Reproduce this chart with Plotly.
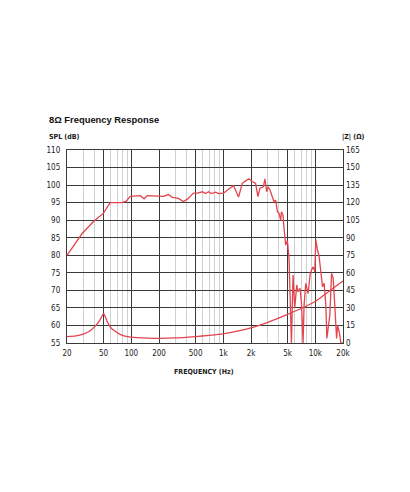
import plotly.graph_objects as go

# ---- data ----
spl_freq = [20, 29.2, 38.4, 47.8, 49.8, 58.9, 79, 88, 97.3, 125, 138, 149, 182, 223, 253, 279, 325,
            368, 407, 473, 523, 593, 640, 690, 744, 822, 887, 1005, 1111, 1292, 1465, 1608, 1746,
            1898, 2066, 2244, 2378, 2500, 2724, 2836, 2960, 3058, 3215, 3417, 3556, 3710, 3871,
            4030, 4206, 4280, 4456, 4570, 4768, 4976, 5180, 5502, 5728, 5978, 6286, 6496, 6830,
            7076, 7362, 7550, 7878, 8348, 8778, 9092, 9464, 9878, 10128, 10568, 11002, 11482,
            11984, 12474, 13020, 13350, 13792, 14392, 15020, 15638, 16320, 17032, 17466, 18184,
            18974, 19798]
spl_db = [80, 86.2, 89.5, 91.5, 92, 95, 95, 95.4, 96.8, 97, 96.1, 97, 96.8, 96.8, 97.3, 96.5, 96.2,
          95.3, 96, 97.7, 97.7, 98.1, 97.6, 98.1, 97.6, 98, 97.6, 97.7, 98.6, 99.8, 96.6, 100.5, 101.2,
          101.8, 101, 100.5, 96.7, 99.1, 99.5, 101.8, 98.1, 99.5, 98.6, 96.2, 95.3, 95.7, 92.4,
          92, 90, 92.4, 91.5, 87.7, 82.9, 84.2, 79.2, 55, 74.4, 65, 71.5, 69.6, 70.6,
          66.3, 55, 65.8, 72, 69.1, 74.4, 75.8, 76.7, 75.3, 84.4, 81.5, 79.6, 75.3,
          71, 72, 65.8, 56.3, 60, 63, 74.9, 73.4, 65.3, 56.3, 60, 58.2,
          55, 55]

imp_freq = [20, 25, 30, 35, 40, 45, 50, 55, 60, 70, 80, 100, 150, 200, 300, 500, 700, 1000,
            1500, 2000, 3000, 5000, 7000, 10000, 14000, 20000]
imp_ohm = [5.5, 6, 7.5, 10, 14, 19, 25, 18, 13, 9, 6.5, 5, 4.2, 4, 4.3, 5.5, 6.5, 7.8,
           10.5, 13, 17.5, 24.5, 29.5, 35.5, 44, 53]

x_major = [20, 50, 100, 200, 500, 1000, 2000, 5000, 10000, 20000]
x_major_text = ["20", "50", "100", "200", "500", "1k", "2k", "5k", "10k", "20k"]
x_minor = [30, 40, 60, 70, 80, 90, 300, 400, 600, 700, 800, 900,
           3000, 4000, 6000, 7000, 8000, 9000]
spl_ticks = list(range(55, 111, 5))
imp_ticks = list(range(0, 166, 15))

RED = "#e3444e"
DARK = "#3a3a3a"
COND = "Liberation Sans Narrow, DejaVu Sans Condensed, sans-serif"
tick_font = dict(family=COND, size=8, color="#1a1a1a")

# target plot box on screen (page body has an 8px margin)
W, H, OFF = 410, 492, 8
PL, PR, PT, PB = 67, 343, 150, 343
pw, ph = PR - PL, PB - PT


def px(x):
    return (x - PL) / pw


def py(y):
    return (PB - y) / ph


fig = go.Figure()
fig.add_trace(go.Scatter(x=spl_freq, y=spl_db, mode="lines", line=dict(color=RED, width=1.3),
                         showlegend=False, hoverinfo="skip"))
fig.add_trace(go.Scatter(x=imp_freq, y=imp_ohm, mode="lines", yaxis="y2",
                         line=dict(color=RED, width=1.3, shape="spline", smoothing=0.6),
                         showlegend=False, hoverinfo="skip"))


def note(text, x, y, anchor="left", size=7.5, family=COND, color="#1a1a1a"):
    return dict(text=text, x=px(x), y=py(y), xref="paper", yref="paper", showarrow=False,
                xanchor=anchor, yanchor="middle", font=dict(family=family, size=size, color=color))


fig.update_layout(
    width=W, height=H,
    margin=dict(l=PL - OFF, r=W + OFF - PR, t=PT - OFF, b=H + OFF - PB),
    paper_bgcolor="white", plot_bgcolor="white",
    xaxis=dict(type="log", range=[1.30103, 4.30103], tickvals=x_major, ticktext=x_major_text,
               showgrid=True, gridcolor=DARK, gridwidth=1.1,
               minor=dict(tickvals=x_minor, showgrid=True, gridcolor="#cfcfcf", gridwidth=1, ticks=""),
               showline=True, mirror=True, linecolor=DARK, linewidth=1.3,
               ticks="", tickfont=tick_font, zeroline=False, fixedrange=True, ticklabelstandoff=2),
    yaxis=dict(range=[55, 110], tickvals=spl_ticks, showgrid=True, gridcolor=DARK, gridwidth=1.1,
               showline=True, mirror=True, linecolor=DARK, linewidth=1.3,
               ticks="", tickfont=tick_font, zeroline=False, ticklabelstandoff=4),
    yaxis2=dict(range=[0, 165], tickvals=imp_ticks, overlaying="y", side="right",
                showgrid=False, zeroline=False, ticks="", tickfont=tick_font, ticklabelstandoff=2),
    annotations=[
        note("<b>8Ω Frequency Response</b>", 47, 119, size=9.4,
             family="Liberation Sans, Arial, sans-serif", color="#111"),
        note("<b>SPL (dB)</b>", 47, 137, size=7),
        note("<b>|Z| (Ω)</b>", 340, 137, size=7),
        note("<b>FREQUENCY (Hz)</b>", 204, 372, anchor="center", size=7),
    ],
)

fig.write_html("out.html")
